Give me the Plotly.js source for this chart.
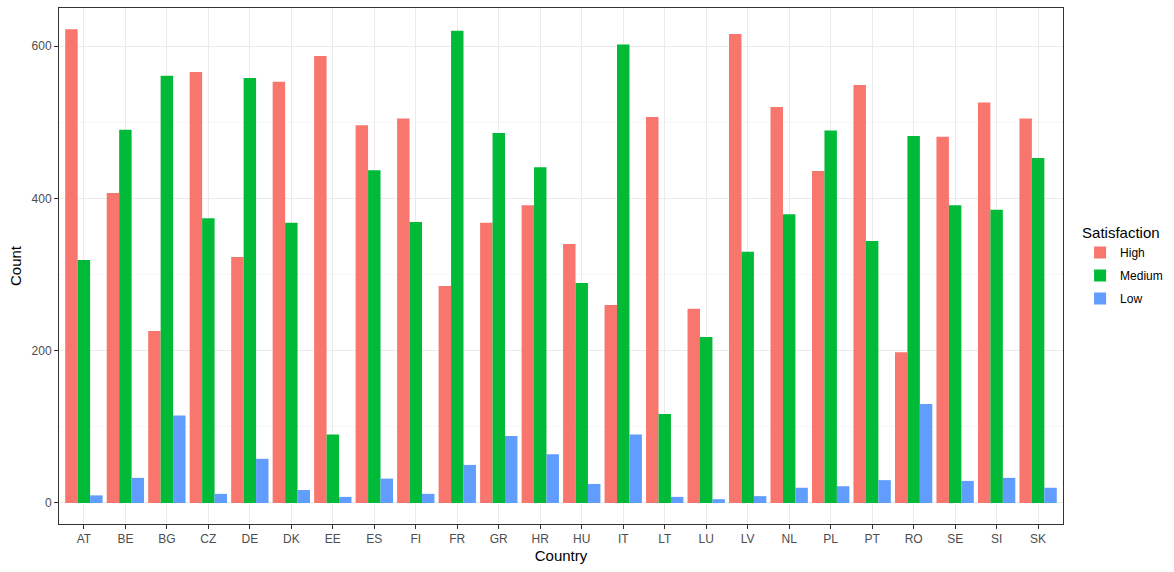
<!DOCTYPE html>
<html>
<head>
<meta charset="utf-8">
<script src="https://cdn.plot.ly/plotly-3.0.1.min.js"></script>
<style>
  html, body { margin: 0; padding: 0; background: #fff; }
  #plot { width: 1174px; height: 572px; }
</style>
</head>
<body>
<div id="plot"></div>
<script>
var countries = ['AT','BE','BG','CZ','DE','DK','EE','ES','FI','FR','GR','HR','HU','IT','LT','LU','LV','NL','PL','PT','RO','SE','SI','SK'];
var high   = [622, 407, 226, 566, 323, 553, 587, 496, 505, 285, 368, 391, 340, 260, 507, 255, 616, 520, 436, 549, 198, 481, 526, 505];
var medium = [319, 490, 561, 374, 558, 368,  90, 437, 369, 620, 486, 441, 289, 602, 117, 218, 330, 379, 489, 344, 482, 391, 385, 453];
var low    = [ 10,  33, 115,  12,  58,  17,   8,  32,  12,  50,  88,  64,  25,  90,   8,   5,   9,  20,  22,  30, 130,  29,  33,  20];

var levels = ['High', 'Medium', 'Low'];
var colors = ['#F8766D', '#00BA38', '#619CFF'];
var series = [high, medium, low];

var traces = levels.map(function(name, i) {
  return {
    type: 'bar',
    name: name,
    legendgroup: name,
    x: countries,
    y: series[i],
    marker: {color: colors[i]},
    hoverinfo: 'x+y+name'
  };
});

var layout = {
  width: 1174,
  height: 572,
  barmode: 'group',
  bargap: 0.1,
  bargroupgap: 0,
  paper_bgcolor: '#ffffff',
  plot_bgcolor: '#ffffff',
  font: {family: 'Liberation Sans, Arial, sans-serif', color: '#000000'},
  margin: {l: 59, r: 111, t: 8, b: 48},
  xaxis: {
    type: 'category',
    range: [-0.6, 23.6],
    automargin: false,
    showgrid: true,
    gridcolor: '#EBEBEB',
    gridwidth: 1,
    showline: true,
    mirror: true,
    linecolor: '#333333',
    linewidth: 1,
    ticks: 'outside',
    ticklen: 4,
    tickcolor: '#333333',
    tickfont: {size: 12, color: '#4D4D4D'},
    title: {text: 'Country', font: {size: 15, color: '#000000'}, standoff: 5},
    zeroline: false
  },
  yaxis: {
    range: [-27.6, 650],
    automargin: false,
    tickvals: [0, 200, 400, 600],
    showgrid: true,
    gridcolor: '#EBEBEB',
    gridwidth: 1,
    minor: {tickvals: [100, 300, 500], showgrid: true, gridcolor: '#F2F2F2', gridwidth: 0.6},
    showline: true,
    mirror: true,
    linecolor: '#333333',
    linewidth: 1,
    ticks: 'outside',
    ticklen: 4,
    tickcolor: '#333333',
    tickfont: {size: 12, color: '#4D4D4D'},
    title: {text: 'Count', font: {size: 15, color: '#000000'}, standoff: 6},
    zeroline: false
  },
  legend: {
    xref: 'container',
    yref: 'container',
    x: 0.92,
    xanchor: 'left',
    y: 0.535,
    yanchor: 'middle',
    title: {text: 'Satisfaction', font: {size: 15, color: '#000000'}},
    font: {size: 12, color: '#000000'},
    bgcolor: 'rgba(0,0,0,0)',
    itemwidth: 30,
    tracegroupgap: 4
  },
  showlegend: true
};

Plotly.newPlot('plot', traces, layout, {displayModeBar: false, staticPlot: true});
</script>
</body>
</html>
